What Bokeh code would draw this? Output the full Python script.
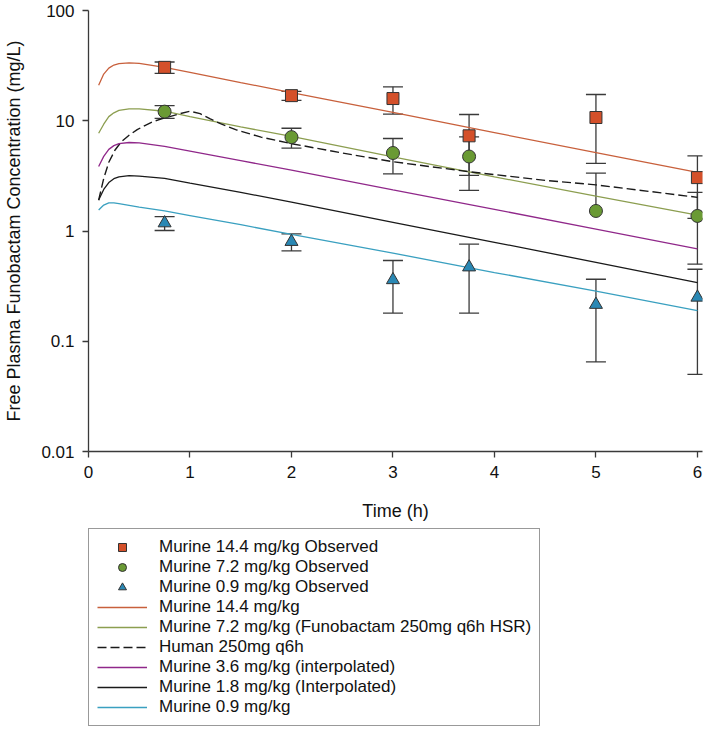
from bokeh.plotting import figure
from bokeh.layouts import column
from bokeh.models import (Range1d, FixedTicker, Whisker, TeeHead, ColumnDataSource,
                          Legend, LegendItem)
from bokeh.embed import file_html
from bokeh.resources import INLINE

FONT = "Liberation Sans"

# ---------------- data ----------------
x_ticks = [0, 1, 2, 3, 4, 5, 6]
x_tick_labels = ["0", "1", "2", "3", "4", "5", "6"]
y_ticks = [0.01, 0.1, 1, 10, 100]
y_tick_labels = ["0.01", "0.1", "1", "10", "100"]

obs_time = [0.75, 2, 3, 3.75, 5, 6]
obs_144 = [30.5, 16.9, 15.9, 7.3, 10.7, 3.05]
sd_144 = [3.6, 1.6, 4.4, 4.1, 6.6, 1.75]
obs_72 = [12.1, 7.1, 5.1, 4.74, 1.52, 1.37]
sd_72 = [1.6, 1.45, 1.8, 2.4, 1.83, 0.87]
obs_09 = [1.18, 0.80, 0.36, 0.47, 0.215, 0.25]
sd_09 = [0.17, 0.14, 0.18, 0.29, 0.15, 0.20]

model_time = [0.1, 0.15, 0.2, 0.25, 0.3, 0.4, 0.5, 0.75, 1, 1.5, 2, 3, 4, 5, 6]
model_144 = [21, 26.5, 30, 32, 33, 33.5, 33.2, 30.5, 27.5, 22.2, 18, 11.9, 7.8, 5.15, 3.4]
model_72 = [7.7, 9.3, 10.9, 11.8, 12.4, 12.8, 12.8, 12.2, 10.9, 8.8, 7.2, 4.7, 3.1, 2.07, 1.39]
model_36 = [3.85, 4.75, 5.5, 5.95, 6.2, 6.35, 6.3, 5.85, 5.3, 4.35, 3.56, 2.36, 1.57, 1.04, 0.69]
model_18 = [1.91, 2.38, 2.75, 2.98, 3.1, 3.18, 3.15, 3.0, 2.72, 2.24, 1.83, 1.2, 0.79, 0.52, 0.34]
model_09 = [1.55, 1.72, 1.8, 1.8, 1.77, 1.71, 1.65, 1.52, 1.38, 1.14, 0.93, 0.63, 0.42, 0.285, 0.19]

human_time = [0.1, 0.15, 0.2, 0.26, 0.32, 0.4, 0.48, 0.56, 0.64, 0.72, 0.8, 0.9, 1.0,
              1.1, 1.2, 1.3, 1.45, 1.7, 2, 2.5, 3, 3.75, 4.5, 5, 6]
human_250 = [1.9, 3.0, 4.2, 5.4, 6.4, 7.4, 8.3, 9.1, 9.85, 10.4, 10.9, 11.6, 12.2,
             11.6, 10.4, 9.4, 8.3, 7.1, 6.2, 5.1, 4.25, 3.45, 2.88, 2.62, 2.02]

labels = [
    "Murine 14.4 mg/kg Observed",
    "Murine 7.2 mg/kg Observed",
    "Murine 0.9 mg/kg Observed",
    "Murine 14.4 mg/kg",
    "Murine 7.2 mg/kg (Funobactam 250mg q6h HSR)",
    "Human 250mg q6h",
    "Murine 3.6 mg/kg (interpolated)",
    "Murine 1.8 mg/kg (Interpolated)",
    "Murine 0.9 mg/kg",
]

# ---------------- styles ----------------
AX = "#3a3a3a"
C144, C72, C36, C18, C09 = "#c8603c", "#8c9e50", "#90288a", "#1a1a1a", "#3aa0c0"
SQ_FILL, CI_FILL, TR_FILL = "#d4502a", "#6a9a34", "#2a88b4"
line_styles = [
    dict(line_color=C144, line_width=1.3),
    dict(line_color=C72, line_width=1.3),
    dict(line_color="#1a1a1a", line_width=1.4, line_dash="9 4"),
    dict(line_color=C36, line_width=1.3),
    dict(line_color=C18, line_width=1.3),
    dict(line_color=C09, line_width=1.3),
]
marker_styles = [
    dict(marker="square", size=12, fill_color=SQ_FILL, line_color="#333333", line_width=1),
    dict(marker="circle", size=13, fill_color=CI_FILL, line_color="#333333", line_width=1),
    dict(marker="triangle", size=13, fill_color=TR_FILL, line_color="#333333", line_width=1),
]

# ---------------- main figure ----------------
p = figure(width=707, height=526, x_range=Range1d(0, 6.05), y_range=Range1d(0.01, 100),
           y_axis_type="log", output_backend="svg", toolbar_location=None,
           min_border_left=88, min_border_right=5, min_border_top=10, min_border_bottom=75)
p.grid.visible = False
p.outline_line_color = None
p.background_fill_color = "white"
p.border_fill_color = "white"

for ax in (p.xaxis[0], p.yaxis[0]):
    ax.axis_line_color = AX
    ax.axis_line_width = 1.3
    ax.major_tick_line_color = AX
    ax.major_tick_line_width = 1.3
    ax.major_tick_out = 6
    ax.major_tick_in = 0
    ax.minor_tick_line_color = None
    ax.major_label_text_font = FONT
    ax.major_label_text_font_size = "17px"
    ax.major_label_text_color = "#111111"
    ax.axis_label_text_font = FONT
    ax.axis_label_text_font_size = "18px"
    ax.axis_label_text_font_style = "normal"
    ax.axis_label_text_color = "#111111"

p.xaxis.ticker = FixedTicker(ticks=x_ticks)
p.xaxis.major_label_overrides = dict(zip(x_ticks, x_tick_labels))
p.xaxis.major_label_standoff = 8
p.xaxis.axis_label = "Time (h)"
p.xaxis.axis_label_standoff = 20

p.yaxis.ticker = FixedTicker(ticks=y_ticks, minor_ticks=[])
p.yaxis.major_label_overrides = dict(zip(y_ticks, y_tick_labels))
p.yaxis.major_label_standoff = 8
p.yaxis.axis_label = "Free Plasma Funobactam Concentration (mg/L)"
p.yaxis.axis_label_standoff = 14

# model lines
p.line(model_time, model_144, **line_styles[0])
p.line(model_time, model_72, **line_styles[1])
p.line(human_time, human_250, **line_styles[2])
p.line(model_time, model_36, **line_styles[3])
p.line(model_time, model_18, **line_styles[4])
p.line(model_time, model_09, **line_styles[5])

# error bars (mean +/- SD; a lower bar below zero is not drawn)
def add_errors(vals, sds):
    up = ColumnDataSource(dict(t=obs_time, lo=vals, hi=[v + s for v, s in zip(vals, sds)]))
    p.add_layout(Whisker(source=up, base="t", lower="lo", upper="hi", dimension="height",
                         line_color=AX, line_width=1.3,
                         upper_head=TeeHead(size=20, line_color=AX, line_width=1.3),
                         lower_head=None))
    keep = [i for i, (v, s) in enumerate(zip(vals, sds)) if v - s > 0]
    dn = ColumnDataSource(dict(t=[obs_time[i] for i in keep],
                               lo=[vals[i] - sds[i] for i in keep],
                               hi=[vals[i] for i in keep]))
    p.add_layout(Whisker(source=dn, base="t", lower="lo", upper="hi", dimension="height",
                         line_color=AX, line_width=1.3,
                         lower_head=TeeHead(size=20, line_color=AX, line_width=1.3),
                         upper_head=None))

add_errors(obs_144, sd_144)
add_errors(obs_72, sd_72)
add_errors(obs_09, sd_09)

# observed markers
p.scatter(obs_time, obs_144, **marker_styles[0])
p.scatter(obs_time, obs_72, **marker_styles[1])
p.scatter(obs_time, obs_09, **marker_styles[2])

# ---------------- legend figure (no axes at all) ----------------
q = figure(width=707, height=206, x_range=Range1d(0, 1), y_range=Range1d(0, 1),
           output_backend="svg", toolbar_location=None,
           x_axis_location=None, y_axis_location=None,
           min_border_left=88, min_border_right=5, min_border_top=0, min_border_bottom=0)
q.grid.visible = False
q.outline_line_color = None
q.background_fill_color = "white"
q.border_fill_color = "white"

# legend-only renderers: one point placed outside the visible range so nothing is drawn
leg_rends = [q.scatter([-5], [-5], **ms) for ms in marker_styles]
leg_rends += [q.line([-5, -4], [-5, -5], **ls) for ls in line_styles]
legend = Legend(items=[LegendItem(label=l, renderers=[r]) for l, r in zip(labels, leg_rends)],
                location=(0, 6), margin=0, padding=8, spacing=0,
                label_height=20, glyph_height=20, glyph_width=50, label_standoff=12,
                label_text_font=FONT, label_text_font_size="17px", label_text_color="#111111",
                border_line_color="#333333", border_line_width=1.3,
                background_fill_color="white", background_fill_alpha=1)
q.add_layout(legend)

layout = column(p, q, spacing=0)
open("out.html", "w").write(file_html(layout, INLINE))
